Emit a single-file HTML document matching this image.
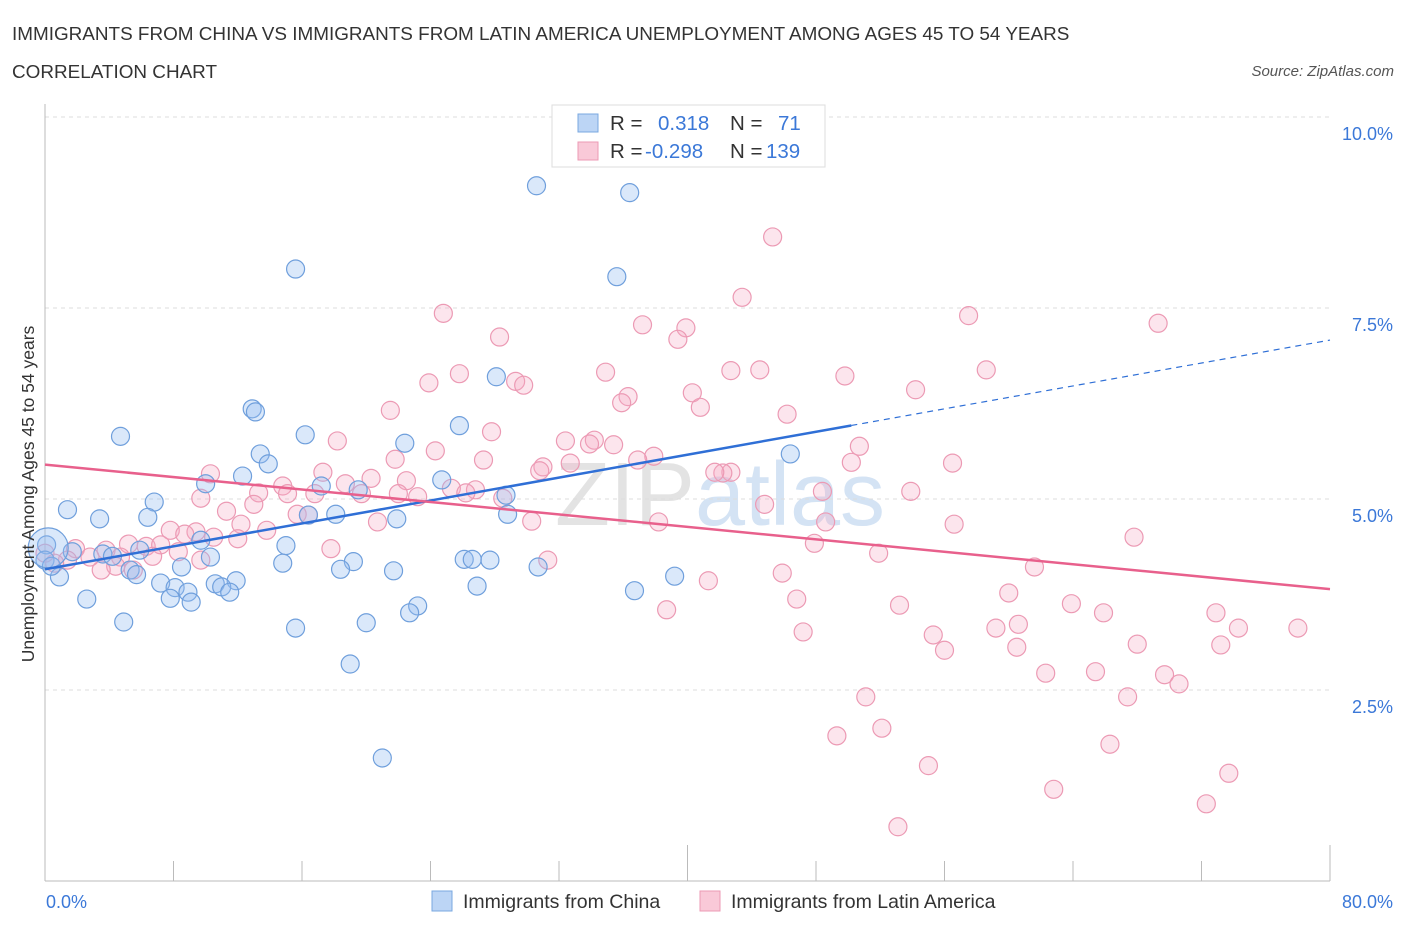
<!DOCTYPE html>
<html><head><meta charset="utf-8"><style>
body{margin:0;background:#fff;font-family:"Liberation Sans",sans-serif;}
svg text{font-family:"Liberation Sans",sans-serif;}
</style></head><body>
<svg id="chart" width="1406" height="930" xmlns="http://www.w3.org/2000/svg">
<text x="12" y="40" font-size="18.9" fill="#333">IMMIGRANTS FROM CHINA VS IMMIGRANTS FROM LATIN AMERICA UNEMPLOYMENT AMONG AGES 45 TO 54 YEARS</text>
<text x="12" y="78" font-size="18.9" fill="#333">CORRELATION CHART</text>
<text x="1394" y="76" font-size="15" fill="#555" font-style="italic" text-anchor="end">Source: ZipAtlas.com</text>
<text x="720" y="525" font-size="90" fill="#dfe6ee" text-anchor="middle"><tspan fill="#e3e3e3">ZIP</tspan><tspan fill="#d4e3f4">atlas</tspan></text>
<g id="grid"></g><g id="axes"></g><g id="pts"></g><g id="lines"></g>
<text x="34" y="494" font-size="17.5" fill="#333" text-anchor="middle" transform="rotate(-90 34 494)">Unemployment Among Ages 45 to 54 years</text>
<g>
<rect x="552" y="105" width="273" height="62" fill="#fff" stroke="#ddd"/>
<rect x="578" y="114" width="20" height="18" fill="#bcd5f5" stroke="#7aa8e0"/>
<rect x="578" y="142" width="20" height="18" fill="#f9c9d8" stroke="#ec9ab4"/>
<text x="610" y="130" font-size="20.5" fill="#333">R =</text><text x="658" y="130" font-size="20.5" fill="#3b78d8">0.318</text>
<text x="730" y="130" font-size="20.5" fill="#333">N =</text><text x="778" y="130" font-size="20.5" fill="#3b78d8">71</text>
<text x="610" y="158" font-size="20.5" fill="#333">R =</text><text x="645" y="158" font-size="20.5" fill="#3b78d8">-0.298</text>
<text x="730" y="158" font-size="20.5" fill="#333">N =</text><text x="766" y="158" font-size="20.5" fill="#3b78d8">139</text>
</g>
<g>
<rect x="432" y="891" width="20" height="20" fill="#bcd5f5" stroke="#7aa8e0"/>
<text x="463" y="908" font-size="19.5" fill="#333">Immigrants from China</text>
<rect x="700" y="891" width="20" height="20" fill="#f9c9d8" stroke="#ec9ab4"/>
<text x="731" y="908" font-size="19.5" fill="#333">Immigrants from Latin America</text>
</g>
</svg>
<script>
const yTicks=[2.5,5.0,7.5,10.0];
const yTickLabels=["2.5%","5.0%","7.5%","10.0%"];
const xTickLabels=["0.0%","80.0%"];
const chinaX=[30.6,36.4,15.6,35.6,28.1,12.9,13.1,4.7,16.2,25.8,22.4,13.4,13.9,46.4,12.3,24.7,10.0,17.2,19.5,6.8,28.7,1.4,3.4,6.4,16.4,18.1,21.9,28.8,0.1,15.0,9.7,1.7,5.9,3.6,4.2,0,0.9,5.3,5.7,8.5,10.3,14.8,19.2,18.4,21.7,26.1,26.6,27.7,30.7,39.2,7.2,8.1,8.9,10.6,11.9,11.0,11.5,7.8,9.1,2.6,26.9,36.7,23.2,22.7,4.9,15.6,20.0,19.0,21.0,0.4,0.2];
const chinaY=[9.10,9.01,8.01,7.91,6.60,6.18,6.14,5.82,5.84,5.96,5.73,5.59,5.46,5.59,5.30,5.25,5.20,5.17,5.12,4.96,5.05,4.86,4.74,4.76,4.79,4.80,4.74,4.80,4.40,4.39,4.46,4.31,4.33,4.28,4.25,4.20,3.98,4.07,4.01,4.11,4.24,4.16,4.18,4.08,4.06,4.21,4.21,4.20,4.11,3.99,3.90,3.84,3.78,3.89,3.93,3.85,3.78,3.70,3.65,3.69,3.86,3.80,3.60,3.51,3.39,3.31,3.38,2.84,1.61,4.12,4.36];
const latamX=[45.3,43.4,24.8,37.2,39.9,39.4,28.3,69.3,57.5,25.8,23.9,34.9,29.3,29.8,42.7,44.5,49.8,58.6,40.3,36.3,35.9,40.8,54.2,21.5,46.2,27.8,18.2,24.3,32.4,34.2,33.9,35.4,37.9,36.9,50.7,27.3,21.8,56.5,50.2,32.7,31.0,30.8,10.3,17.3,20.3,42.7,42.2,41.7,18.7,14.8,15.1,22.5,25.3,26.8,13.3,9.7,16.8,22.0,23.2,26.2,48.4,53.9,19.7,28.5,44.8,13.0,11.3,15.7,16.4,12.2,20.7,30.3,38.2,48.6,56.6,7.8,9.4,13.8,8.7,10.5,12.0,5.2,6.3,7.2,3.8,1.9,47.9,67.8,17.8,8.3,2.8,1.4,4.7,6.7,9.7,31.3,51.9,61.6,4.4,5.5,3.5,45.9,41.3,60.0,46.8,53.2,63.9,38.7,65.9,72.9,60.6,59.2,47.2,55.3,74.3,78.0,60.5,56.0,68.0,73.2,62.3,65.4,69.7,70.6,51.1,67.4,52.1,49.3,66.3,55.0,73.7,62.8,72.3,53.1,0.6,0];
const latamY=[8.43,7.64,7.43,7.28,7.24,7.09,7.12,7.30,7.40,6.64,6.52,6.66,6.54,6.49,6.68,6.69,6.61,6.69,6.39,6.34,6.26,6.20,6.43,6.16,6.11,5.88,5.76,5.63,5.76,5.77,5.72,5.71,5.56,5.51,5.69,5.51,5.52,5.47,5.48,5.47,5.42,5.37,5.33,5.35,5.27,5.35,5.34,5.35,5.20,5.17,5.07,5.24,5.14,5.12,5.08,5.01,5.07,5.07,5.03,5.08,5.10,5.10,5.07,5.01,4.93,4.93,4.84,4.80,4.79,4.67,4.70,4.71,4.70,4.70,4.67,4.59,4.57,4.59,4.54,4.50,4.48,4.41,4.38,4.40,4.33,4.35,4.42,4.50,4.35,4.31,4.24,4.20,4.24,4.25,4.20,4.20,4.29,4.11,4.12,4.07,4.07,4.03,3.93,3.77,3.69,3.61,3.63,3.55,3.51,3.51,3.36,3.31,3.26,3.22,3.31,3.31,3.06,3.02,3.10,3.09,2.72,2.74,2.70,2.58,2.41,2.41,2.00,1.90,1.79,1.51,1.41,1.20,1.01,0.71,4.16,4.29];
const chinaTrend=[4.08,7.08];   // y at x=0 and x=80
const latamTrend=[5.45,3.82];
const NS='http://www.w3.org/2000/svg';
const X0=45,X1=1330,Y0=881,YPER=76.4;
const sx=v=>X0+v*(X1-X0)/80;
const sy=v=>Y0-v*YPER;
function mk(t,a,p){const e=document.createElementNS(NS,t);for(const k in a)e.setAttribute(k,a[k]);document.getElementById(p).appendChild(e);return e;}
yTicks.forEach((v,i)=>{
 const g=mk('line',{x1:X0,x2:X1,y1:sy(v),y2:sy(v),stroke:'#ddd','stroke-dasharray':'4,4'},'grid');
 
 
 const t=mk('text',{x:1393,y:sy(v)+23,'font-size':18,fill:'#3b78d8','text-anchor':'end'},'axes');
 t.textContent=yTickLabels[i];
 
 
});
let a=mk('line',{x1:X0,x2:X0,y1:104,y2:Y0,stroke:'#bbb'},'axes');


a=mk('line',{x1:X0,x2:X1,y1:Y0,y2:Y0,stroke:'#bbb'},'axes');


for(let i=0;i<=10;i++){const t=mk('line',{x1:sx(i*8),x2:sx(i*8),y1:Y0,y2:Y0-(i%5==0?36:20),stroke:'#bbb'},'axes');
 
 }
[[0,46,'start'],[80,1393,'end']].forEach((d,i)=>{const t=mk('text',{x:d[1],y:908,'font-size':18,fill:'#3b78d8','text-anchor':d[2]},'axes');t.textContent=xTickLabels[i];
 
 });
latamX.forEach((v,i)=>{const c=mk('circle',{cx:sx(v),cy:sy(latamY[i]),r:9,fill:'rgba(245,170,195,0.3)',stroke:'#ec9ab4','stroke-width':1.2},'pts');
 
 });
chinaX.forEach((v,i)=>{const c=mk('circle',{cx:sx(v),cy:sy(chinaY[i]),r:(i==chinaX.length-1?20:9),fill:'rgba(150,190,240,0.35)',stroke:'#6f9fdc','stroke-width':1.2},'pts');
 
 });
const cy=x=>chinaTrend[0]+(chinaTrend[1]-chinaTrend[0])*x/80;
let l=mk('line',{x1:sx(0),y1:sy(cy(0)),x2:sx(50.2),y2:sy(cy(50.2)),stroke:'#2f6fd6','stroke-width':2.5},'lines');


l=mk('line',{x1:sx(50.2),y1:sy(cy(50.2)),x2:sx(80),y2:sy(cy(80)),stroke:'#2f6fd6','stroke-width':1.2,'stroke-dasharray':'6,5'},'lines');


l=mk('line',{x1:sx(0),y1:sy(latamTrend[0]),x2:sx(80),y2:sy(latamTrend[1]),stroke:'#e8608c','stroke-width':2.5},'lines');


</script>
</body></html>
